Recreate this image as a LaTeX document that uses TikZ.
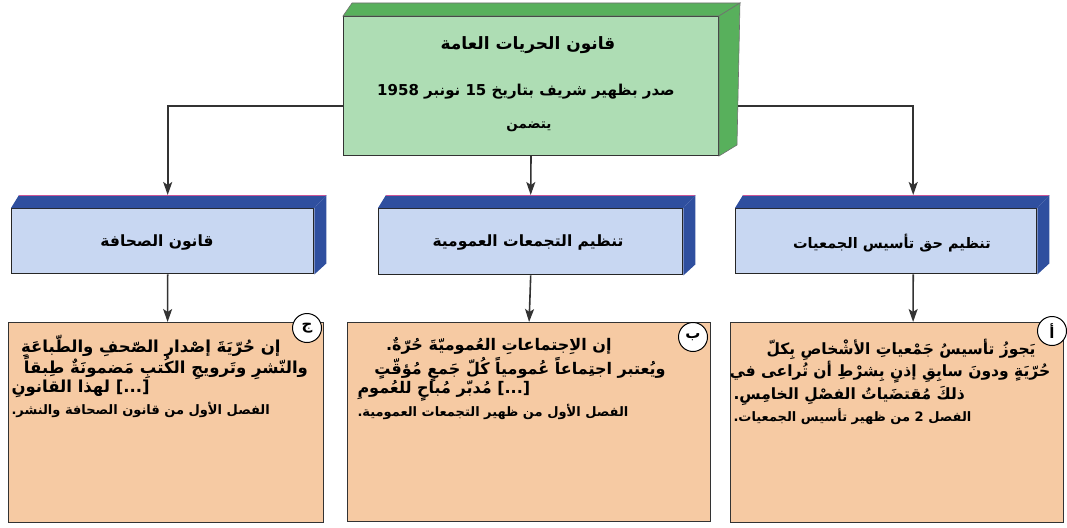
\documentclass[tikz,border=0pt]{standalone}
\usepackage{fontspec}
\newfontfamily\arabicfont[Script=Arabic]{DejaVu Sans}
\TeXXeTstate=1
\usetikzlibrary{arrows.meta,positioning,calc}
\definecolor{lawgreen}{HTML}{AEDDB4}
\definecolor{lawgreendark}{HTML}{58B05C}
\definecolor{secblue}{HTML}{C8D7F2}
\definecolor{secbluedark}{HTML}{2F4F9F}
\definecolor{textorange}{HTML}{F6CAA3}
\definecolor{linegray}{HTML}{333333}
\newcommand{\ar}[1]{\beginR #1\endR}

\begin{document}
\begin{tikzpicture}
[x=1pt, y=-1pt, font=\arabicfont\bfseries, line width=1pt,
front/.style={rectangle, draw=linegray, inner sep=0pt, anchor=north west},
lawbox/.style={front, fill=lawgreen, minimum width=375pt, minimum height=139pt},
secbox/.style={front, fill=secblue, line width=1.4pt, draw=black!85},
textbox/.style={front, fill=textorange, line width=1.2pt},
tag/.style={circle, draw=black, fill=white, line width=1pt, inner sep=0pt, minimum size=29pt, font=\arabicfont\bfseries\fontsize{15}{15}\selectfont},
sectitle/.style={font=\arabicfont\bfseries\fontsize{15.5}{18}\selectfont},
line/.style={inner sep=0pt, font=\arabicfont\bfseries\fontsize{#1}{20}\selectfont},
source/.style={inner sep=0pt, font=\arabicfont\bfseries\fontsize{13}{15}\selectfont},
conn/.style={draw=linegray, line width=1.6pt, -{Stealth[length=13pt,width=9pt,inset=3pt]}}]
\useasboundingbox (0,0) rectangle (1067,527);

% main law box
\node[lawbox] (law) at (343,16) {};
\fill[lawgreendark, draw=linegray!70, line width=0.6pt] (law.north west) -- ++(9,-13) -- ($(law.north east)+(21,-13)$) -- (law.north east) -- cycle;
\fill[lawgreendark, draw=linegray!70, line width=0.6pt] (law.north east) -- ++(21,-13) -- ($(law.south east)+(18,-11)$) -- (law.south east) -- cycle;
\node[font=\arabicfont\bfseries\fontsize{17}{18}\selectfont] (lawtitle) at (528,45) {\ar{قانون الحريات العامة}};
\node[font=\arabicfont\bfseries\fontsize{15}{18}\selectfont] (lawdate) at (526,92) {\ar{صدر بظهير شريف بتاريخ \beginL15\endL{} نونبر \beginL1958\endL}};
\node[font=\arabicfont\bfseries\fontsize{13.5}{15}\selectfont] (lawincl) at (529,127) {\ar{يتضمن}};

% three sections
\node[secbox, minimum width=302pt, minimum height=65pt] (press) at (11,208) {};
\node[secbox, minimum width=304pt, minimum height=66pt] (meet) at (378,208) {};
\node[secbox, minimum width=301pt, minimum height=65pt] (assoc) at (735,208) {};
\foreach \s in {press, meet, assoc} {
  \fill[secbluedark] (\s.north west) -- ++(8,-13) -- ($(\s.north east)+(12,-13)$) -- (\s.north east) -- cycle;
  \draw[magenta!60!gray, line width=0.6pt] ($(\s.north west)+(8,-13)$) -- ($(\s.north east)+(12,-13)$);
  \fill[secbluedark] (\s.north east) -- ++(12,-13) -- ($(\s.south east)+(12,-11)$) -- (\s.south east) -- cycle;
}
\node[sectitle] (presstitle) at (157,243) {\ar{قانون الصحافة}};
\node[sectitle] (meettitle) at (528,243) {\ar{تنظيم التجمعات العمومية}};
\node[sectitle, font=\arabicfont\bfseries\fontsize{14.5}{18}\selectfont] (assoctitle) at (892,243) {\ar{تنظيم حق تأسيس الجمعيات}};

% text boxes
\node[textbox, minimum width=315pt, minimum height=200pt] (pressbox) at (8,322) {};
\node[textbox, minimum width=363pt, minimum height=199pt] (meetbox) at (347,322) {};
\node[textbox, minimum width=333pt, minimum height=200pt] (assocbox) at (730,322) {};
\node[tag] (tagc) at (307,328) {\ar{ج}};
\node[tag] (tagb) at (693,337) {\ar{ب}};
\node[tag] (taga) at (1052,331) {\ar{أ}};

% press law text
\node[line=16.5, anchor=east] (pl1) at (281,346) {\ar{إن حُرّيَةَ إصْدار الصّحفِ والطّباعَةِ}};
\node[line=16.5] (pl2) at (166,368) {\ar{والنّشرِ وتَرويجِ الكُتبِ مَضمونَةٌ طِبقاً}};
\node[line=16.5, anchor=west] (pl3) at (11,389) {\beginL\ar{لهذا القانونِ} [...]\endL};
\node[source, anchor=west] (ps) at (11,410) {\ar{الفصل الأول من قانون الصحافة والنشر.}};

% meeting text
\node[line=16, anchor=east] (ml1) at (612,346) {\ar{إن الاِجتماعاتِ العُموميّةَ حُرّةٌ.}};
\node[line=16] (ml2) at (520,370) {\ar{ويُعتبر اجتِماعاً عُمومياً كُلّ جَمعٍ مُؤقّتٍ}};
\node[line=16, anchor=west] (ml3) at (357,391) {\beginL\ar{مُدبّر مُباحٍ للعُمومِ} [...]\endL};
\node[source, anchor=west] (ms) at (357,412) {\ar{الفصل الأول من ظهير التجمعات العمومية.}};

% association text
\node[line=15.5, anchor=east] (al1) at (1036,350) {\ar{يَجوزُ تأسيسُ جَمْعياتِ الأشْخاصِ بِكلّ}};
\node[line=15.5] (al2) at (890,372) {\ar{حُرّيَةٍ ودونَ سابِقِ إذنٍ بِشرْطِ أن تُراعى في}};
\node[line=15.5, anchor=west] (al3) at (733,396) {\ar{ذلكَ مُقتضَياتُ الفصْلِ الخامِسِ.}};
\node[source, anchor=west] (as) at (733,417) {\ar{الفصل \beginL2\endL{} من ظهير تأسيس الجمعيات.}};

% connectors
\draw[conn] ([yshift=-20pt]law.west) -| ([xshift=5pt,yshift=13pt]press.north);
\draw[conn] (law.south) -- ([yshift=13pt]meet.north);
\draw[conn] ([xshift=19pt,yshift=-20pt]law.east) -| ([xshift=27pt,yshift=13pt]assoc.north);
\draw[conn] ([xshift=5pt]press.south) -- ([xshift=1.5pt]pressbox.north);
\draw[conn] (meet.south) -- (meetbox.north);
\draw[conn] ([xshift=27pt]assoc.south) -- ([xshift=16pt]assocbox.north);
\end{tikzpicture}
\end{document}
